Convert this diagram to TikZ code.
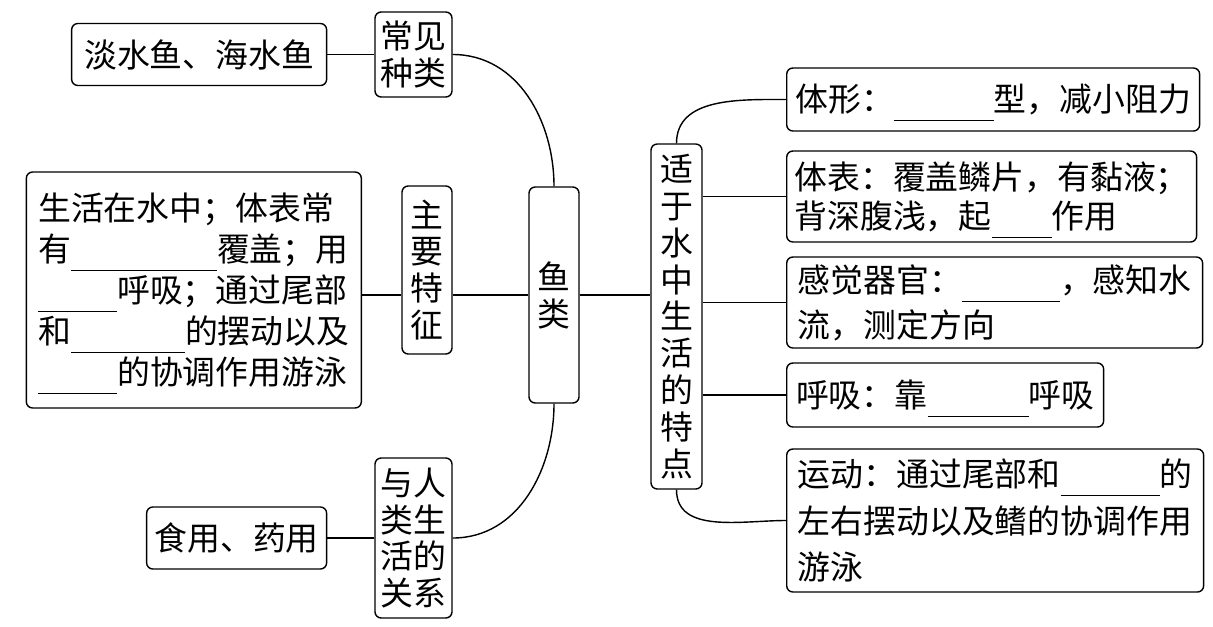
\documentclass[tikz,border=0pt]{standalone}
\usepackage{fontspec}
\setmainfont{Noto Sans CJK SC}
\usetikzlibrary{positioning}

\newcommand{\ansline}[1]{\smash{\rule[-0.3em]{#1}{0.6pt}}}

\begin{document}
\begin{tikzpicture}[
    x=0.02cm, y=-0.02cm,
    every node/.style={font=\fontsize{18.7pt}{23pt}\selectfont, inner sep=0pt},
    box/.style={draw, line width=0.8pt, rounded corners=3.5pt, align=center},
    leaf/.style={box, align=left},
    col/.style={box, font=\fontsize{18.7pt}{21pt}\selectfont},
    link/.style={line width=0.8pt}
]
\useasboundingbox (0,0) rectangle (1213,626);

% Centre and branches
\node[col, minimum width=1cm, minimum height=4.32cm] (fish) at (554,295) {鱼\\类};
\node[col, minimum width=1.54cm, minimum height=1.70cm] (kinds) at (413.5,54.5) {常见\\种类};
\node[col, minimum width=1cm, minimum height=3.36cm] (feat) at (427,270) {主\\要\\特\\征};
\node[col, minimum width=1.54cm, minimum height=3.20cm] (humans) at (413.5,538) {与人\\类生\\活的\\关系};
\node[col, minimum width=1.02cm, minimum height=6.90cm] (adapt) at (676.5,316.5) {适\\于\\水\\中\\生\\活\\的\\特\\点};

% Left leaves
\node[leaf, minimum width=5.10cm, minimum height=1.24cm, left=0.94cm of kinds] (kindsleaf) {淡水鱼、海水鱼};
\node[leaf, minimum width=6.70cm, minimum height=4.72cm, anchor=east,
      font=\fontsize{18.7pt}{23.3pt}\selectfont] (featleaf) at (362,290)
  {生活在水中；体表常\\有\ansline{2.92cm}覆盖；用\\\ansline{1.58cm}呼吸；通过尾部\\和\ansline{2.28cm}的摆动以及\\\ansline{1.58cm}的协调作用游泳};
\node[leaf, minimum width=3.60cm, minimum height=1.24cm, left=0.94cm of humans] (humansleaf) {食用、药用};

% Right leaves
\node[leaf, minimum width=8.26cm, minimum height=1.26cm, anchor=west] (shape) at (786,99.5)
  {体形：\ansline{2cm}型，减小阻力};
\node[leaf, minimum width=8.20cm, minimum height=1.82cm, anchor=west,
      font=\fontsize{18.7pt}{22.2pt}\selectfont] (skin) at (786,196.5)
  {体表：覆盖鳞片，有黏液；\\背深腹浅，起\ansline{1.2cm}作用};
\node[leaf, minimum width=8.32cm, minimum height=1.82cm, anchor=west,
      font=\fontsize{18.7pt}{25.6pt}\selectfont] (sense) at (786,302.5)
  {感觉器官：\ansline{1.96cm}，感知水\\流，测定方向};
\node[leaf, minimum width=6.34cm, minimum height=1.28cm, anchor=west] (breath) at (786,395)
  {呼吸：靠\ansline{2.02cm}呼吸};
\node[leaf, minimum width=8.34cm, minimum height=2.86cm, anchor=west,
      font=\fontsize{18.7pt}{26.7pt}\selectfont] (move) at (786,520.5)
  {运动：通过尾部和\ansline{1.98cm}的\\左右摆动以及鳍的协调作用\\游泳};

% Links
\draw[link] (kindsleaf) -- (kinds);
\draw[link] (kinds.east) to[out=0, in=90] (fish.north);
\draw[link] (featleaf.east |- fish) -- (feat.west |- fish);
\draw[link] (feat.east |- fish) -- (fish.west);
\draw[link] (humansleaf) -- (humans);
\draw[link] (humans.east) to[out=0, in=-90] (fish.south);
\draw[link] (fish.east) -- (fish.east -| adapt.west);
\draw[link] (adapt.north) to[out=90, in=180] (shape.west);
\draw[link] (adapt.east |- skin) -- (skin.west);
\draw[link] (adapt.east |- sense) -- (sense.west);
\draw[link] (adapt.east |- breath) -- (breath.west);
\draw[link] (adapt.south) to[out=-90, in=180] (move.west);

\end{tikzpicture}
\end{document}
